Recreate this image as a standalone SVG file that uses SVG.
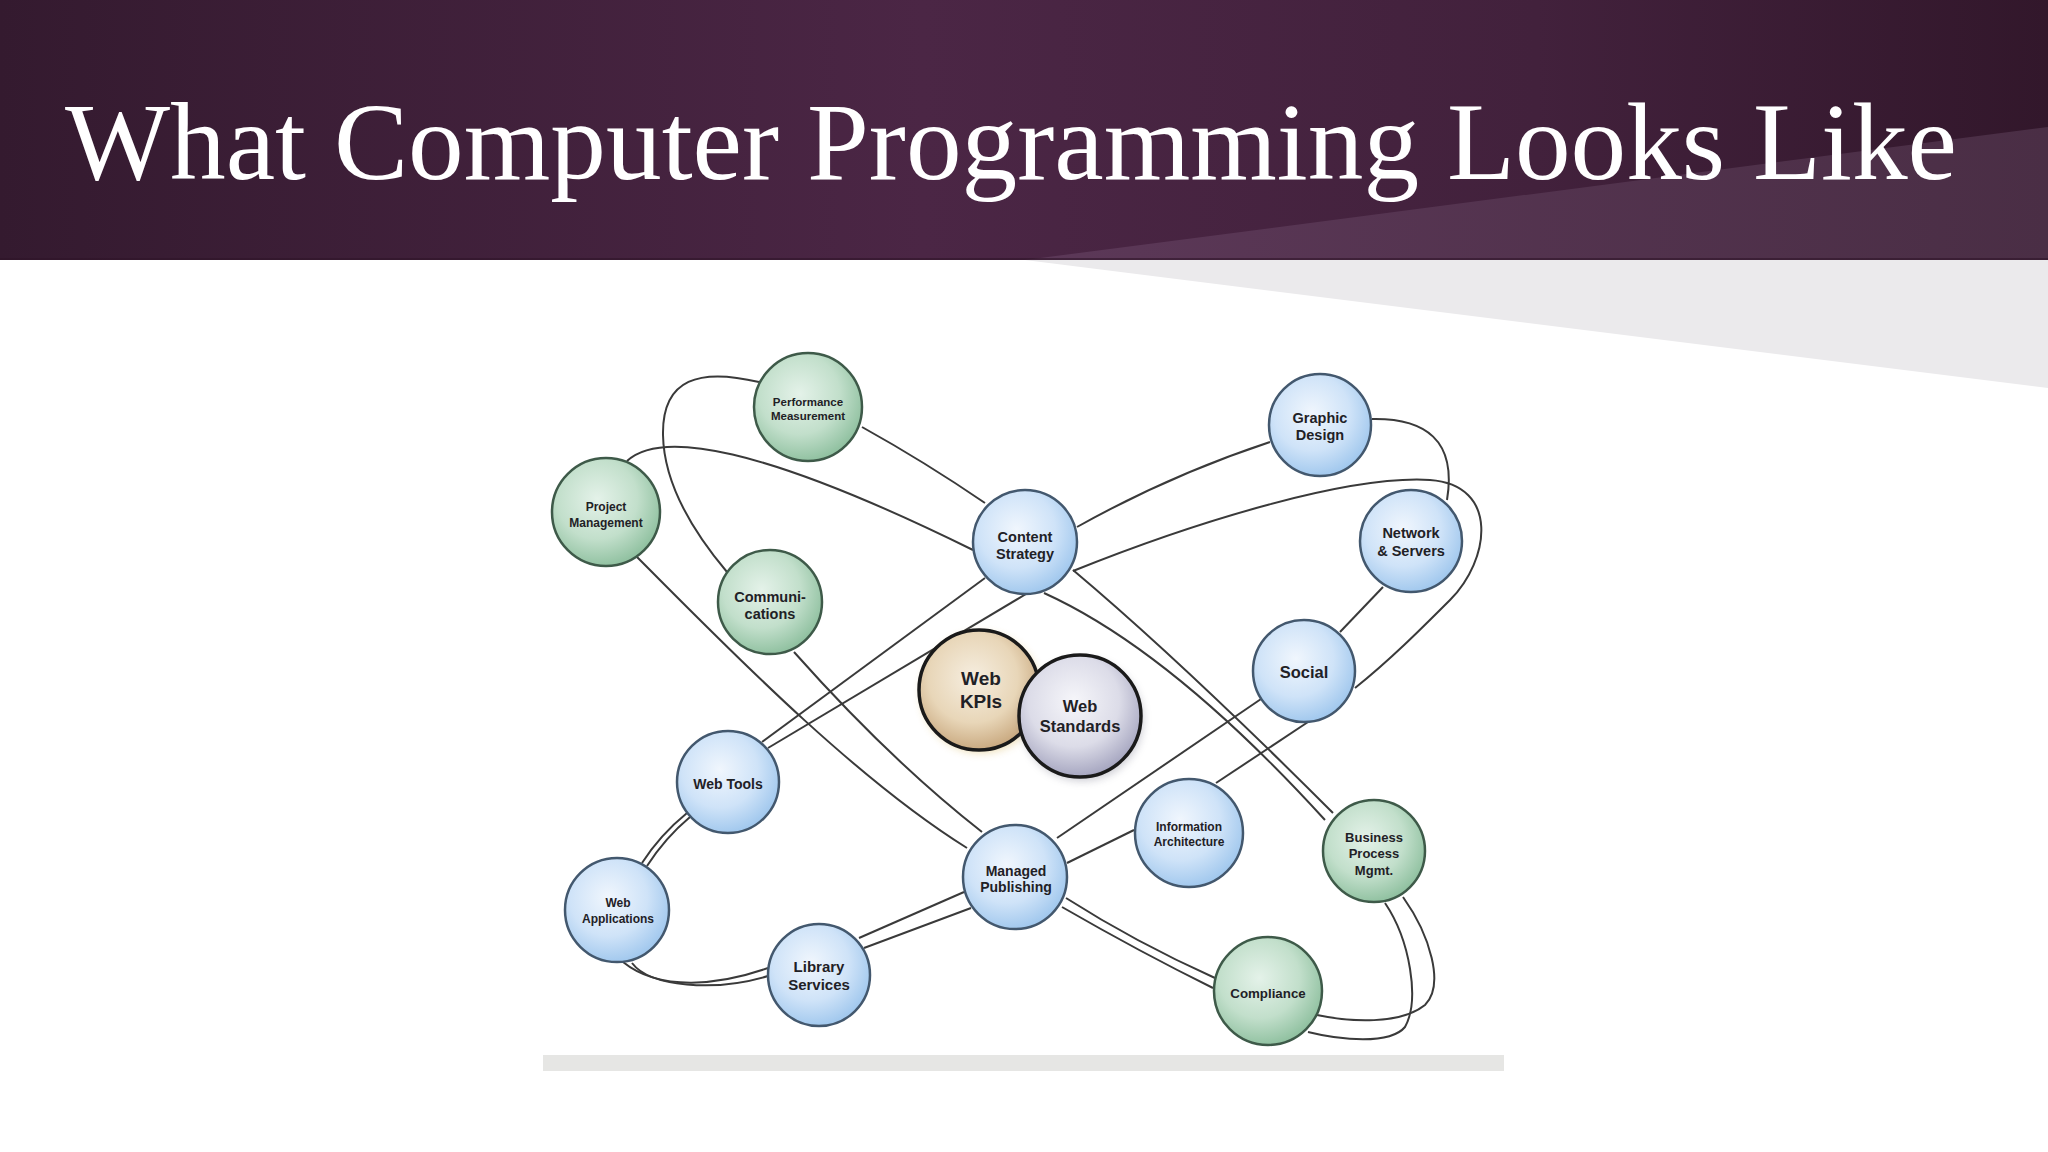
<svg xmlns="http://www.w3.org/2000/svg" width="2048" height="1152" viewBox="0 0 2048 1152">
<defs>
<linearGradient id="hdr" x1="0" y1="0" x2="1" y2="0">
<stop offset="0" stop-color="#341a2f"/>
<stop offset="0.45" stop-color="#4b2645"/>
<stop offset="0.75" stop-color="#42213c"/>
<stop offset="1" stop-color="#32172b"/>
</linearGradient>
<linearGradient id="hdrLight" x1="0" y1="0" x2="1" y2="0">
<stop offset="0" stop-color="#5c3858"/>
<stop offset="1" stop-color="#4a2e45"/>
</linearGradient>
<radialGradient id="gGreen" cx="0.42" cy="0.38" r="0.62">
<stop offset="0" stop-color="#e4f2e9"/>
<stop offset="0.6" stop-color="#c2dfcb"/>
<stop offset="1" stop-color="#92c2a2"/>
</radialGradient>
<radialGradient id="gBlue" cx="0.42" cy="0.38" r="0.62">
<stop offset="0" stop-color="#f0f6fd"/>
<stop offset="0.6" stop-color="#cfe3f8"/>
<stop offset="1" stop-color="#a3c9ee"/>
</radialGradient>
<radialGradient id="gTan" cx="0.45" cy="0.4" r="0.62">
<stop offset="0" stop-color="#f6eee0"/>
<stop offset="0.6" stop-color="#e8d6b8"/>
<stop offset="1" stop-color="#c7a67c"/>
</radialGradient>
<radialGradient id="gGrey" cx="0.45" cy="0.38" r="0.62">
<stop offset="0" stop-color="#f6f6fa"/>
<stop offset="0.6" stop-color="#dcdce8"/>
<stop offset="1" stop-color="#a6a6c0"/>
</radialGradient>
<filter id="glow" x="-30%" y="-30%" width="160%" height="160%">
<feGaussianBlur stdDeviation="4"/>
</filter>
</defs>
<style>
.edge{fill:none;stroke:#3a3a3a;stroke-width:2}
.green{fill:url(#gGreen);stroke:#3e5a49;stroke-width:2.5}
.blue{fill:url(#gBlue);stroke:#43586e;stroke-width:2.5}
.lbl{font-family:"Liberation Sans",Arial,sans-serif;font-weight:bold;fill:#1f2126;text-anchor:middle}
.title{font-family:"Liberation Serif","Times New Roman",serif;fill:#ffffff}
</style>

<rect x="0" y="0" width="2048" height="1152" fill="#ffffff"/>
<g id="header">
<rect x="0" y="0" width="2048" height="260" fill="url(#hdr)"/>
<polygon points="1025,260 2048,127 2048,260" fill="url(#hdrLight)"/>
<rect x="0" y="258" width="2048" height="2" fill="#2e1428" opacity="0.6"/>
<polygon points="1025,260 2048,260 2048,388" fill="#ebeaec"/>
<text class="title" x="65" y="179" font-size="110" textLength="1892" lengthAdjust="spacingAndGlyphs">What Computer Programming Looks Like</text>
</g>

<rect id="baseline-bar" x="543" y="1055" width="961" height="16" fill="#e6e6e4"/>

<g id="connectors">
<path class="edge" d="M 759 382 C 700 368, 662 378, 663 435 C 664 490, 700 540, 727 572"/>
<path class="edge" d="M 862 427 Q 925 462 985 503"/>
<path class="edge" d="M 627 461 C 660 430, 760 445, 973 550"/>
<path class="edge" d="M 637 557 C 720 640, 850 775, 967 848"/>
<path class="edge" d="M 794 652 Q 890 760 982 832"/>
<path class="edge" d="M 1073 570 Q 1180 660 1333 813"/>
<path class="edge" d="M 1044 593 Q 1170 650 1325 820"/>
<path class="edge" d="M 1403 897 C 1430 935, 1445 985, 1425 1005 C 1400 1025, 1350 1022, 1317 1015"/>
<path class="edge" d="M 1385 903 C 1410 940, 1420 1000, 1405 1027 C 1390 1045, 1340 1040, 1308 1032"/>
<path class="edge" d="M 1062 907 Q 1140 952 1213 988"/>
<path class="edge" d="M 1066 898 Q 1135 942 1215 978"/>
<path class="edge" d="M 762 742 L 985 578"/>
<path class="edge" d="M 768 748 L 1026 594"/>
<path class="edge" d="M 1077 527 Q 1170 475 1270 442"/>
<path class="edge" d="M 1372 419 C 1425 418, 1457 440, 1447 500"/>
<path class="edge" d="M 1383 587 L 1340 632"/>
<path class="edge" d="M 1261 699 L 1057 838"/>
<path class="edge" d="M 1308 722 L 1216 783"/>
<path class="edge" d="M 1134 830 L 1067 863"/>
<path class="edge" d="M 1073 571 C 1200 520, 1350 475, 1430 480 C 1500 485, 1490 560, 1450 600 C 1420 630, 1390 660, 1355 688"/>
<path class="edge" d="M 964 892 L 859 938"/>
<path class="edge" d="M 971 908 L 864 948"/>
<path class="edge" d="M 768 968 C 720 985, 660 992, 623 962"/>
<path class="edge" d="M 768 976 C 715 992, 650 987, 632 963"/>
<path class="edge" d="M 642 863 Q 660 835 687 813"/>
<path class="edge" d="M 647 866 Q 665 838 690 817"/>
</g>

<g id="performance-measurement">
<circle class="green" cx="808" cy="407" r="54"/>
<text class="lbl" font-size="11.5"><tspan x="808" y="406">Performance</tspan><tspan x="808" y="420">Measurement</tspan></text>
</g>
<g id="project-management">
<circle class="green" cx="606" cy="512" r="54"/>
<text class="lbl" font-size="12"><tspan x="606" y="511">Project</tspan><tspan x="606" y="527">Management</tspan></text>
</g>
<g id="communications">
<circle class="green" cx="770" cy="602" r="52"/>
<text class="lbl" font-size="14.5"><tspan x="770" y="602">Communi-</tspan><tspan x="770" y="619">cations</tspan></text>
</g>
<g id="content-strategy">
<circle class="blue" cx="1025" cy="542" r="52"/>
<text class="lbl" font-size="14.5"><tspan x="1025" y="542">Content</tspan><tspan x="1025" y="559">Strategy</tspan></text>
</g>
<g id="graphic-design">
<circle class="blue" cx="1320" cy="425" r="51"/>
<text class="lbl" font-size="14.5"><tspan x="1320" y="423">Graphic</tspan><tspan x="1320" y="440">Design</tspan></text>
</g>
<g id="network-servers">
<circle class="blue" cx="1411" cy="541" r="51"/>
<text class="lbl" font-size="14.5"><tspan x="1411" y="538">Network</tspan><tspan x="1411" y="556">&amp; Servers</tspan></text>
</g>
<g id="social">
<circle class="blue" cx="1304" cy="671" r="51"/>
<text class="lbl" font-size="16.5" x="1304" y="678">Social</text>
</g>
<g id="web-kpis">
<circle cx="981" cy="693" r="60" fill="#d9b860" opacity="0.45" filter="url(#glow)"/>
<circle cx="979" cy="690" r="60" fill="url(#gTan)" stroke="#1a1a1a" stroke-width="3.5"/>
<text class="lbl" font-size="19"><tspan x="981" y="685">Web</tspan><tspan x="981" y="708">KPIs</tspan></text>
</g>
<g id="web-standards">
<circle cx="1082" cy="720" r="61" fill="#6c6c80" opacity="0.35" filter="url(#glow)"/>
<circle cx="1080" cy="716" r="61" fill="url(#gGrey)" stroke="#1a1a1a" stroke-width="3.5"/>
<text class="lbl" font-size="16.5"><tspan x="1080" y="712">Web</tspan><tspan x="1080" y="732">Standards</tspan></text>
</g>
<g id="web-tools">
<circle class="blue" cx="728" cy="782" r="51"/>
<text class="lbl" font-size="14" x="728" y="789">Web Tools</text>
</g>
<g id="web-applications">
<circle class="blue" cx="617" cy="910" r="52"/>
<text class="lbl" font-size="12"><tspan x="618" y="907">Web</tspan><tspan x="618" y="923">Applications</tspan></text>
</g>
<g id="library-services">
<circle class="blue" cx="819" cy="975" r="51"/>
<text class="lbl" font-size="15"><tspan x="819" y="972">Library</tspan><tspan x="819" y="990">Services</tspan></text>
</g>
<g id="managed-publishing">
<circle class="blue" cx="1015" cy="877" r="52"/>
<text class="lbl" font-size="14"><tspan x="1016" y="876">Managed</tspan><tspan x="1016" y="892">Publishing</tspan></text>
</g>
<g id="information-architecture">
<circle class="blue" cx="1189" cy="833" r="54"/>
<text class="lbl" font-size="12"><tspan x="1189" y="831">Information</tspan><tspan x="1189" y="846">Architecture</tspan></text>
</g>
<g id="business-process-mgmt">
<circle class="green" cx="1374" cy="851" r="51"/>
<text class="lbl" font-size="13"><tspan x="1374" y="842">Business</tspan><tspan x="1374" y="858">Process</tspan><tspan x="1374" y="875">Mgmt.</tspan></text>
</g>
<g id="compliance">
<circle class="green" cx="1268" cy="991" r="54"/>
<text class="lbl" font-size="13.3" x="1268" y="998">Compliance</text>
</g>
</svg>
